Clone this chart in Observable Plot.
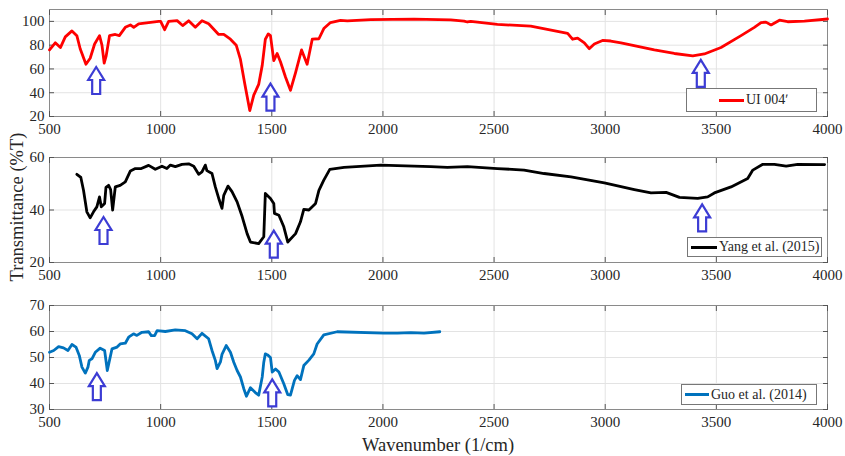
<!DOCTYPE html>
<html>
<head>
<meta charset="utf-8">
<script src="https://cdn.jsdelivr.net/npm/d3@7"></script>
<script src="https://cdn.jsdelivr.net/npm/@observablehq/plot@0.6"></script>
<style>
  html, body { margin: 0; padding: 0; background: #fff; }
  #wrap { position: relative; width: 845px; height: 456px; font-family: "Liberation Serif", "Times New Roman", serif; color: #262626; }
  .legend { position: absolute; background: #fff; border: 1px solid #777; font-size: 14px; box-sizing: border-box; }
  .legend .sw { position: absolute; height: 3px; }
  .legend .lt { position: absolute; white-space: nowrap; line-height: 1; }
  #ytitle { position: absolute; left: 17px; top: 207px; transform: translate(-50%, -50%) rotate(-90deg); font-size: 18.5px; white-space: nowrap; }
  #xtitle { position: absolute; left: 438px; top: 445px; transform: translate(-50%, -50%); font-size: 18.5px; white-space: nowrap; }
  svg text { font-family: "Liberation Serif", "Times New Roman", serif; }
</style>
</head>
<body>
<div id="wrap">
  <div id="ytitle">Transmittance (%T)</div>
  <div id="xtitle">Wavenumber (1/cm)</div>
</div>
<script>
// ---------- data ----------
const xTicks = [500, 1000, 1500, 2000, 2500, 3000, 3500, 4000];

const uiLabel = "UI 004ʹ";
const uiWn = [500,526,549,571,601,623,638,664,683,703,725,736,746,755,770,796,814,841,864,879,901,991,1000,1018,1036,1074,1099,1126,1156,1186,1216,1261,1284,1314,1340,1359,1378,1401,1419,1441,1457,1471,1484,1494,1509,1524,1539,1562,1584,1607,1634,1659,1682,1712,1734,1764,1809,1840,1945,2140,2305,2365,2380,2395,2515,2665,2831,2853,2876,2906,2928,2951,2988,3025,3071,3221,3311,3394,3446,3521,3611,3671,3701,3723,3746,3784,3821,3896,4000];
const uiT  = [76,82,78,87,92,88,77,64,69,81,88,80,65,71,88,89,88,95,97,95,98,100,100,93,100,100.6,96.5,100.5,95,100.5,98,89,89,85,80,68,48,25,38,47,63,85,89.5,88,67,73,66,53,42,57,76,64,85,85.4,94,99,100.8,100.4,101.5,101.9,101.2,100.3,99.5,100,97.5,96,90,85,86,82,77,81,84,83.5,82,76,73,71,72.6,78,88,95,99,99.4,97,101,99.7,100.3,102];
const uiYTicks = [20, 40, 60, 80, 100];
const uiArrowWn = [710, 1494, 3430];
const uiArrowT = [50.3, 36.3, 56.3];

const yangLabel = "Yang et al. (2015)";
const yangWn = [623,641,653,668,683,698,713,725,733,748,754,766,775,784,796,818,841,864,886,913,946,976,1006,1028,1044,1066,1096,1126,1149,1171,1186,1201,1208,1231,1246,1264,1276,1284,1303,1321,1344,1367,1389,1404,1441,1464,1471,1494,1509,1512,1532,1554,1572,1607,1629,1644,1667,1697,1712,1734,1761,1825,1990,2215,2290,2380,2515,2635,2725,2846,2996,3131,3206,3274,3334,3416,3461,3491,3566,3641,3664,3709,3761,3814,3866,3987];
const yangT  = [53.6,52.4,47.5,39.3,37,39.3,41.2,45,41.2,42.5,48.6,49.4,47.8,40,48.8,49.4,50.7,54.9,55.8,55.8,57,55.5,56.7,55.8,57.1,56.5,57.4,57.6,56.7,53.6,54.5,57.1,55,53.9,48.8,43.7,40.6,45.6,49.1,47,43.1,37.4,31,27.8,27.2,29.8,46.3,44.4,42.5,38.7,38,33.6,27.8,31,35.5,40.2,40,42.5,47.5,51.4,55.5,56.2,57.1,56.5,56.2,56.5,55.8,55.2,53.9,52.6,50.3,47.8,46.5,46.7,44.8,44.4,45,46.5,48.8,52,55.2,57.4,57.4,56.7,57.4,57.3];
const yangYTicks = [20, 40, 60];
const yangArrowWn = [743, 1509, 3436];
const yangArrowT = [32.2, 27, 37];

const guoLabel = "Guo et al. (2014)";
const guoWn = [500,519,541,563,583,601,619,634,646,661,673,679,691,706,728,748,760,773,781,804,818,841,856,878,893,916,946,958,973,984,1021,1066,1111,1141,1164,1186,1216,1231,1246,1254,1269,1276,1295,1314,1329,1344,1359,1374,1386,1404,1426,1441,1457,1464,1471,1481,1494,1502,1517,1532,1554,1572,1584,1602,1614,1629,1644,1667,1689,1704,1734,1794,2005,2065,2125,2185,2256];
const guoT  = [52,52.7,54.2,53.7,52.7,55,54,50.8,46.3,44,46.3,48.9,49.5,52,53.6,52.7,45,50.1,53.3,54,55.2,55.5,57.8,59.1,58.5,59.7,59.9,58.4,58.4,60.3,60,60.6,60.3,59.1,57.2,59.3,57.2,52.7,48.9,45.7,48.3,51.2,54.6,52,48.2,45,42.5,38,35.1,38.4,36.5,35.5,42.5,48.2,51.4,51,50,44.4,45.6,44.4,39.9,35.7,35.5,41.2,43,41.5,46.9,49,51.4,55.2,58.7,59.9,59.4,59.4,59.6,59.4,59.9];
const guoYTicks = [30, 40, 50, 60, 70];
const guoArrowWn = [713, 1502];
const guoArrowT = [38.8, 36.4];

// ---------- drawing ----------
const serif = '"Liberation Serif", "Times New Roman", serif';
const arrowSymbol = {
  draw(ctx) {
    ctx.moveTo(0, -13.5); ctx.lineTo(8, -0.5); ctx.lineTo(4, -0.5); ctx.lineTo(4, 13.5);
    ctx.lineTo(-4, 13.5); ctx.lineTo(-4, -0.5); ctx.lineTo(-8, -0.5); ctx.closePath();
  }
};

function panel({top, height, marginTop, marginBottom, wn, t, color, yDomain, yTicks, arrowWn, arrowT}) {
  const pts = wn.map((w, i) => ({w, t: t[i]}));
  const arrows = arrowWn.map((w, i) => ({w, t: arrowT[i]}));
  const frameStroke = "#8a8a8a";
  const txt = {fontFamily: serif, fontSize: 15, fill: "#262626", label: null};
  const chart = Plot.plot({
    width: 845, height, marginLeft: 49, marginRight: 18, marginTop, marginBottom,
    style: {fontFamily: serif, fontSize: "15px", color: "#262626", background: "transparent"},
    x: {domain: [500, 4000]},
    y: {domain: yDomain},
    marks: [
      Plot.gridX(xTicks, {stroke: "#e3e3e3", strokeOpacity: 1}),
      Plot.gridY(yTicks, {stroke: "#e3e3e3", strokeOpacity: 1}),
      Plot.frame({stroke: frameStroke}),
      Plot.axisX(xTicks, {anchor: "bottom", tickSize: -5, tickFormat: () => "", label: null, stroke: "#555"}),
      Plot.axisX(xTicks, {anchor: "top", tickSize: -5, tickFormat: () => "", label: null, stroke: "#555"}),
      Plot.axisY(yTicks, {anchor: "left", tickSize: -5, tickFormat: () => "", label: null, stroke: "#555"}),
      Plot.axisY(yTicks, {anchor: "right", tickSize: -5, tickFormat: () => "", label: null, stroke: "#555"}),
      Plot.axisX(xTicks, {anchor: "bottom", tickSize: 0, tickPadding: 7, tickFormat: d => String(d), ...txt}),
      Plot.axisY(yTicks, {anchor: "left", tickSize: 0, tickPadding: 5, tickFormat: d => String(d), ...txt}),
      Plot.line(pts, {x: "w", y: "t", stroke: color, strokeWidth: 2.8, strokeLinejoin: "round", strokeLinecap: "round"}),
      Plot.dot(arrows, {x: "w", y: "t", symbol: arrowSymbol, r: 10, stroke: "#3c3cd4", strokeWidth: 2.2, fill: "white"})
    ]
  });
  chart.style.position = "absolute";
  chart.style.top = top + "px";
  chart.style.left = "0px";
  return chart;
}

function legend({left, top, width, height, swLeft, swWidth, color, label}) {
  const d = document.createElement("div");
  d.className = "legend";
  Object.assign(d.style, {left: left + "px", top: top + "px", width: width + "px", height: height + "px"});
  const sw = document.createElement("div");
  sw.className = "sw";
  Object.assign(sw.style, {left: (swLeft - left) + "px", width: swWidth + "px", top: (height / 2 - 2.5) + "px", background: color});
  const tx = document.createElement("div");
  tx.className = "lt";
  tx.textContent = label;
  Object.assign(tx.style, {left: (swLeft - left + swWidth + 2) + "px", top: (height / 2 - 8) + "px"});
  d.appendChild(sw); d.appendChild(tx);
  return d;
}

const wrap = document.getElementById("wrap");
wrap.appendChild(panel({top: 0, height: 140, marginTop: 9, marginBottom: 24, wn: uiWn, t: uiT, color: "#ff0000", yDomain: [20, 110], yTicks: uiYTicks, arrowWn: uiArrowWn, arrowT: uiArrowT}));
wrap.appendChild(panel({top: 140, height: 150, marginTop: 17, marginBottom: 28, wn: yangWn, t: yangT, color: "#000000", yDomain: [20, 60], yTicks: yangYTicks, arrowWn: yangArrowWn, arrowT: yangArrowT}));
wrap.appendChild(panel({top: 290, height: 145, marginTop: 15, marginBottom: 26, wn: guoWn, t: guoT, color: "#0072bd", yDomain: [30, 70], yTicks: guoYTicks, arrowWn: guoArrowWn, arrowT: guoArrowT}));

wrap.appendChild(legend({left: 686, top: 88, width: 131, height: 24, swLeft: 718, swWidth: 25, color: "#ff0000", label: uiLabel}));
wrap.appendChild(legend({left: 687, top: 237, width: 135, height: 20, swLeft: 690, swWidth: 26, color: "#000000", label: yangLabel}));
wrap.appendChild(legend({left: 681, top: 384, width: 136, height: 21, swLeft: 684, swWidth: 24, color: "#0072bd", label: guoLabel}));
</script>
</body>
</html>
